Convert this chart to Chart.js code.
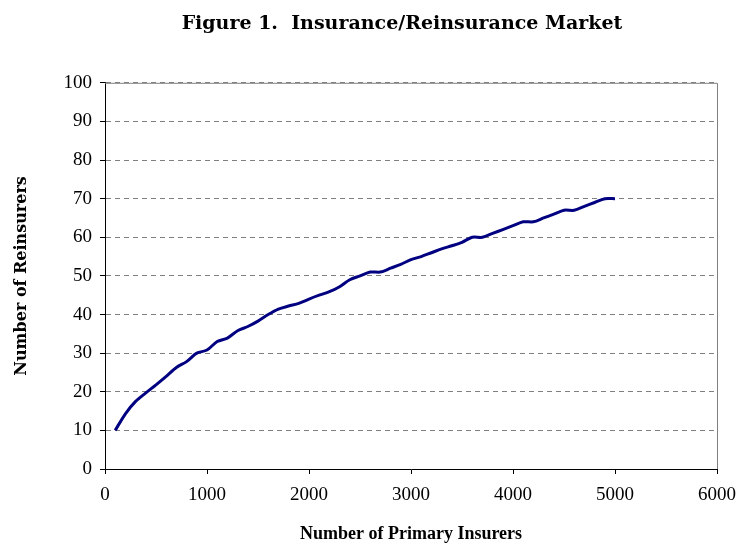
<!DOCTYPE html>
<html>
<head>
<meta charset="utf-8">
<script src="https://cdn.jsdelivr.net/npm/chart.js@4/dist/chart.umd.min.js"></script>
<style>
  body { margin: 0; background: #fff; }
  canvas { display: block; }
</style>
</head>
<body>
<canvas id="chart" width="737" height="546"></canvas>
<script>
'use strict';

// number of primary insurers (x) and reinsurers (y)
let insurers = [100,200,300,400,500,600,700,800,900,1000,
  1100,1200,1300,1400,1500,1600,1700,1800,1900,2000,
  2100,2200,2300,2400,2500,2600,2700,2800,2900,3000,
  3100,3200,3300,3400,3500,3600,3700,3800,3900,4000,
  4100,4200,4300,4400,4500,4600,4700,4800,4900,5000];
let reinsurers = [10,14.3,17.5,19.7,21.8,24,26.3,27.8,30,30.8,
  33,33.9,35.8,36.9,38.3,40,41.4,42.2,42.9,44,
  45,45.9,47.2,49,50,51,51,52,53,54.2,
  55,56,57,57.8,58.7,60,60,61,62,63,
  64,64,65,66,67,67,68,69,70,70];

let xTicks = [0,1000,2000,3000,4000,5000,6000];
let yTicks = [0,10,20,30,40,50,60,70,80,90,100];

const serif = '"Liberation Serif", "Times New Roman", serif';
const wideSerif = '"DejaVu Serif", "Palatino Linotype", serif';
const ctx = document.getElementById('chart');

// grey frame on top and right of the plot area, like the Excel original
const frame = {
  id: 'frame',
  afterLayout(chart){
    // the original title sits a little left of the plot centre
    if(chart.titleBlock){
      chart.titleBlock.left -= 18;
    }
  },
  beforeDatasetsDraw(chart){
    let a = chart.chartArea;
    let c = chart.ctx;
    c.save();
    c.strokeStyle = '#808080';
    c.lineWidth = 1;
    c.setLineDash([]);
    c.beginPath();
    c.moveTo(a.left, a.top + 0.5);
    c.lineTo(a.right + 0.5, a.top + 0.5);
    c.lineTo(a.right + 0.5, a.bottom);
    c.stroke();
    c.restore();
  }
};

let points = [];
for(let i=0; i<insurers.length; i++){
  points.push({x: insurers[i], y: reinsurers[i]});
}

new Chart(ctx, {
  type: 'line',
  data: {
    datasets: [{
      data: points,
      borderColor: '#000080',
      borderWidth: 3,
      pointRadius: 0,
      tension: 0.3,
      fill: false
    }]
  },
  options: {
    responsive: false,
    animation: false,
    layout: { padding: { left: 0, right: 20, top: 0, bottom: 0 } },
    plugins: {
      legend: { display: false },
      tooltip: { enabled: false },
      title: {
        display: true,
        fullSize: false,
        text: 'Figure 1.  Insurance/Reinsurance Market',
        color: '#000',
        font: { family: wideSerif, size: 19, weight: 'bold' },
        padding: { top: 13, bottom: 47 }
      }
    },
    scales: {
      x: {
        type: 'linear',
        min: 0,
        max: 6000,
        afterBuildTicks(scale){ scale.ticks = xTicks.map(v => ({value: v})); },
        afterFit(scale){
          scale.height = 77;
          scale.paddingLeft = 0;
          scale.paddingRight = 0;
        },
        grid: { drawOnChartArea: false, drawTicks: true, tickLength: 5, tickColor: '#000' },
        border: { color: '#000', width: 1 },
        ticks: {
          color: '#000',
          font: { family: serif, size: 19 },
          padding: 10,
          maxRotation: 0,
          callback: v => String(v)
        },
        title: {
          display: true,
          text: 'Number of Primary Insurers',
          color: '#000',
          font: { family: serif, size: 18, weight: 'bold' },
          padding: { top: 0, bottom: 1 }
        }
      },
      y: {
        min: 0,
        max: 100,
        afterBuildTicks(scale){ scale.ticks = yTicks.map(v => ({value: v})); },
        afterFit(scale){ scale.width = 105; },
        grid: { color: '#808080', lineWidth: 1, tickLength: 5, tickColor: '#000', tickBorderDash: [] },
        border: { color: '#000', width: 1, dash: [5,4] },
        ticks: { color: '#000', font: { family: serif, size: 19 }, padding: 8 },
        title: {
          display: true,
          text: 'Number of Reinsurers',
          color: '#000',
          font: { family: wideSerif, size: 16, weight: 'bold' },
          padding: { top: 12, bottom: 0 }
        }
      }
    }
  },
  plugins: [frame]
});
</script>
</body>
</html>
